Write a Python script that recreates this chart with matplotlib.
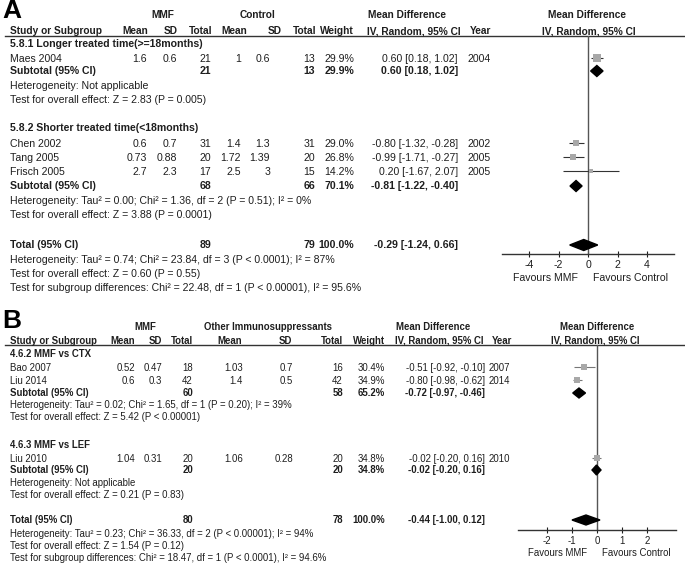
import matplotlib
matplotlib.use("Agg")
import matplotlib.pyplot as plt
from matplotlib.patches import Polygon

plt.rcParams['font.family'] = ['Liberation Sans', 'DejaVu Sans']

W, H = 685, 563
INK = '#1e1e1e'
SQUARE = '#a8a8a8'

# ---- panel A: MMF vs control, split by treatment time ----
a_groups = ["5.8.1 Longer treated time(>=18months)",
            "5.8.2 Shorter treated time(<18months)"]
a_studies = ["Maes 2004", "Chen 2002", "Tang 2005", "Frisch 2005"]
a_years = [2004, 2002, 2005, 2005]
a_mmf_mean = [1.6, 0.6, 0.73, 2.7]
a_mmf_sd = [0.6, 0.7, 0.88, 2.3]
a_mmf_n = [21, 31, 20, 17]
a_ctrl_mean = [1, 1.4, 1.72, 2.5]
a_ctrl_sd = [0.6, 1.3, 1.39, 3]
a_ctrl_n = [13, 31, 20, 15]
a_weight = [29.9, 29.0, 26.8, 14.2]
a_md = [0.60, -0.80, -0.99, 0.20]
a_lo = [0.18, -1.32, -1.71, -1.67]
a_hi = [1.02, -0.28, -0.27, 2.07]

a_sub_mmf_n = [21, 68]
a_sub_ctrl_n = [13, 66]
a_sub_weight = [29.9, 70.1]
a_sub_md = [0.60, -0.81]
a_sub_lo = [0.18, -1.22]
a_sub_hi = [1.02, -0.40]
a_sub_het = ["Heterogeneity: Not applicable",
             "Heterogeneity: Tau² = 0.00; Chi² = 1.36, df = 2 (P = 0.51); I² = 0%"]
a_sub_z = ["Test for overall effect: Z = 2.83 (P = 0.005)",
           "Test for overall effect: Z = 3.88 (P = 0.0001)"]

a_tot_n = [89, 79]
a_tot_weight = 100.0
a_tot_ci = [-0.29, -1.24, 0.66]
a_tot_notes = ["Heterogeneity: Tau² = 0.74; Chi² = 23.84, df = 3 (P < 0.0001); I² = 87%",
               "Test for overall effect: Z = 0.60 (P = 0.55)",
               "Test for subgroup differences: Chi² = 22.48, df = 1 (P < 0.00001), I² = 95.6%"]
a_ticks = [-4, -2, 0, 2, 4]

# ---- panel B: MMF vs other immunosuppressants ----
b_groups = ["4.6.2 MMF vs CTX", "4.6.3 MMF vs LEF"]
b_studies = ["Bao 2007", "Liu 2014", "Liu 2010"]
b_years = [2007, 2014, 2010]
b_mmf_mean = [0.52, 0.6, 1.04]
b_mmf_sd = [0.47, 0.3, 0.31]
b_mmf_n = [18, 42, 20]
b_ctrl_mean = [1.03, 1.4, 1.06]
b_ctrl_sd = [0.7, 0.5, 0.28]
b_ctrl_n = [16, 42, 20]
b_weight = [30.4, 34.9, 34.8]
b_md = [-0.51, -0.80, -0.02]
b_lo = [-0.92, -0.98, -0.20]
b_hi = [-0.10, -0.62, 0.16]

b_sub_mmf_n = [60, 20]
b_sub_ctrl_n = [58, 20]
b_sub_weight = [65.2, 34.8]
b_sub_md = [-0.72, -0.02]
b_sub_lo = [-0.97, -0.20]
b_sub_hi = [-0.46, 0.16]
b_sub_het = ["Heterogeneity: Tau² = 0.02; Chi² = 1.65, df = 1 (P = 0.20); I² = 39%",
             "Heterogeneity: Not applicable"]
b_sub_z = ["Test for overall effect: Z = 5.42 (P < 0.00001)",
           "Test for overall effect: Z = 0.21 (P = 0.83)"]

b_tot_n = [80, 78]
b_tot_weight = 100.0
b_tot_ci = [-0.44, -1.00, 0.12]
b_tot_notes = ["Heterogeneity: Tau² = 0.23; Chi² = 36.33, df = 2 (P < 0.00001); I² = 94%",
               "Test for overall effect: Z = 1.54 (P = 0.12)",
               "Test for subgroup differences: Chi² = 18.47, df = 1 (P < 0.0001), I² = 94.6%"]
b_ticks = [-2, -1, 0, 1, 2]


def ci_text(md, lo, hi):
    return f"{md:.2f} [{lo:.2f}, {hi:.2f}]"


def draw_panel(fig, bg, d, lay):
    fs = lay['fs']
    c = lay['cols']

    def txt(x, y, s, ha='left', bold=False, va='center', size=None):
        bg.text(x, y, s, ha=ha, va=va, fontsize=size or fs, color=INK,
                fontweight='bold' if bold else 'normal')

    bg.text(2, lay['letter_y'], lay['letter'], fontsize=19, fontweight='bold',
            ha='left', va='center', color='black')

    # headers
    for s, x in zip(lay['head1'], lay['head1_x']):
        txt(x, lay['head1_y'], s, ha='center', bold=True, size=lay['hfs'])
    for s, x, ha in lay['head2']:
        txt(x, lay['line_y'] - 1.5, s, ha=ha, bold=True, va='baseline', size=lay['hfs'])
    bg.plot([5, 684], [lay['line_y']] * 2, color='#333333', lw=1)

    # forest axes, y kept in figure pixels so rows line up with the table
    zero, unit, xmax = lay['zero'], lay['unit'], lay['xmax']
    left = zero - xmax * unit
    top, bottom = lay['line_y'], lay['axis_y']
    fa = fig.add_axes([left / W, 1 - bottom / H, 2 * xmax * unit / W, (bottom - top) / H])
    fa.set_xlim(-xmax, xmax)
    fa.set_ylim(bottom, top)
    fa.patch.set_alpha(0)
    for side in ['top', 'left', 'right']:
        fa.spines[side].set_visible(False)
    fa.spines['bottom'].set_color('#333333')
    fa.spines['bottom'].set_linewidth(1)
    fa.set_yticks([])
    fa.set_xticks(d['ticks'])
    fa.set_xticklabels([f"{t:g}" for t in d['ticks']])
    fa.tick_params(axis='x', direction='inout', length=5, width=0.8,
                   pad=2, labelsize=fs, colors=INK)
    fa.axvline(0, color='#555555', lw=1)
    fa.text(-xmax / 2, lay['fav_y'], "Favours MMF", ha='center', va='center',
            fontsize=fs, color=INK, clip_on=False)
    fa.text(xmax / 2, lay['fav_y'], "Favours Control", ha='center', va='center',
            fontsize=fs, color=INK, clip_on=False)

    def diamond(md, lo, hi, y):
        h = lay['dh'] / 2
        fa.add_patch(Polygon([(lo, y), (md, y - h), (hi, y), (md, y + h)],
                             closed=True, color='black', zorder=4))

    # studies
    for i, name in enumerate(d['studies']):
        y = lay['study_y'][i]
        txt(10, y, name)
        txt(c['mmf_mean'], y, f"{d['mmf_mean'][i]:g}", ha='right')
        txt(c['mmf_sd'], y, f"{d['mmf_sd'][i]:g}", ha='right')
        txt(c['mmf_n'], y, f"{d['mmf_n'][i]}", ha='right')
        txt(c['ctrl_mean'], y, f"{d['ctrl_mean'][i]:g}", ha='right')
        txt(c['ctrl_sd'], y, f"{d['ctrl_sd'][i]:g}", ha='right')
        txt(c['ctrl_n'], y, f"{d['ctrl_n'][i]}", ha='right')
        txt(c['weight'], y, f"{d['weight'][i]:.1f}%", ha='right')
        txt(c['md'], y, ci_text(d['md'][i], d['lo'][i], d['hi'][i]), ha='right')
        txt(c['year'], y, f"{d['years'][i]}")
        fa.hlines(y - 1, d['lo'][i], d['hi'][i], color=lay['ci_color'], lw=0.8, zorder=2)
        fa.scatter([d['md'][i]], [y - 1], marker='s', s=d['weight'][i] * lay['sq'],
                   color=SQUARE, linewidths=0, zorder=3)

    # subgroups
    for g, gname in enumerate(d['groups']):
        txt(10, lay['group_y'][g], gname, bold=True)
        y = lay['sub_y'][g]
        txt(10, y, "Subtotal (95% CI)", bold=True)
        txt(c['mmf_n'], y, f"{d['sub_mmf_n'][g]}", ha='right', bold=True)
        txt(c['ctrl_n'], y, f"{d['sub_ctrl_n'][g]}", ha='right', bold=True)
        txt(c['weight'], y, f"{d['sub_weight'][g]:.1f}%", ha='right', bold=True)
        txt(c['md'], y, ci_text(d['sub_md'][g], d['sub_lo'][g], d['sub_hi'][g]),
            ha='right', bold=True)
        diamond(d['sub_md'][g], d['sub_lo'][g], d['sub_hi'][g], y)
        txt(10, lay['het_y'][g], d['sub_het'][g])
        txt(10, lay['z_y'][g], d['sub_z'][g])

    # overall
    y = lay['tot_y'][0]
    txt(10, y, "Total (95% CI)", bold=True)
    txt(c['mmf_n'], y, f"{d['tot_n'][0]}", ha='right', bold=True)
    txt(c['ctrl_n'], y, f"{d['tot_n'][1]}", ha='right', bold=True)
    txt(c['weight'], y, f"{d['tot_weight']:.1f}%", ha='right', bold=True)
    txt(c['md'], y, ci_text(*d['tot_ci']), ha='right', bold=True)
    diamond(*d['tot_ci'], y)
    for s, yy in zip(d['tot_notes'], lay['tot_y'][1:]):
        txt(10, yy, s)


fig = plt.figure(figsize=(W / 100, H / 100), dpi=100)
bg = fig.add_axes([0, 0, 1, 1])
bg.set_xlim(0, W)
bg.set_ylim(H, 0)
bg.axis('off')

data_a = dict(groups=a_groups, studies=a_studies, years=a_years,
              mmf_mean=a_mmf_mean, mmf_sd=a_mmf_sd, mmf_n=a_mmf_n,
              ctrl_mean=a_ctrl_mean, ctrl_sd=a_ctrl_sd, ctrl_n=a_ctrl_n,
              weight=a_weight, md=a_md, lo=a_lo, hi=a_hi,
              sub_mmf_n=a_sub_mmf_n, sub_ctrl_n=a_sub_ctrl_n, sub_weight=a_sub_weight,
              sub_md=a_sub_md, sub_lo=a_sub_lo, sub_hi=a_sub_hi,
              sub_het=a_sub_het, sub_z=a_sub_z,
              tot_n=a_tot_n, tot_weight=a_tot_weight, tot_ci=a_tot_ci,
              tot_notes=a_tot_notes, ticks=a_ticks)
layout_a = dict(letter='A', letter_y=11, fs=7.6, hfs=7.3,
                head1=["MMF", "Control", "Mean Difference", "Mean Difference"],
                head1_x=[163, 258, 407, 587], head1_y=15,
                head2=[("Study or Subgroup", 10, 'left'), ("Mean", 148, 'right'),
                       ("SD", 178, 'right'), ("Total", 212, 'right'),
                       ("Mean", 247, 'right'), ("SD", 282, 'right'),
                       ("Total", 316, 'right'), ("Weight", 354, 'right'),
                       ("IV, Random, 95% CI", 367, 'left'), ("Year", 470, 'left'),
                       ("IV, Random, 95% CI", 589, 'center')],
                line_y=36,
                cols=dict(mmf_mean=147, mmf_sd=177, mmf_n=211, ctrl_mean=241,
                          ctrl_sd=270, ctrl_n=315, weight=354, md=458, year=468),
                group_y=[44, 128], study_y=[59, 144, 158, 172],
                sub_y=[71, 186], het_y=[86, 201], z_y=[100, 215],
                tot_y=[245, 260, 274, 288],
                zero=588, unit=14.75, xmax=5.8, axis_y=254, fav_y=278,
                dh=11, sq=0.85, ci_color='#333333')

data_b = dict(groups=b_groups, studies=b_studies, years=b_years,
              mmf_mean=b_mmf_mean, mmf_sd=b_mmf_sd, mmf_n=b_mmf_n,
              ctrl_mean=b_ctrl_mean, ctrl_sd=b_ctrl_sd, ctrl_n=b_ctrl_n,
              weight=b_weight, md=b_md, lo=b_lo, hi=b_hi,
              sub_mmf_n=b_sub_mmf_n, sub_ctrl_n=b_sub_ctrl_n, sub_weight=b_sub_weight,
              sub_md=b_sub_md, sub_lo=b_sub_lo, sub_hi=b_sub_hi,
              sub_het=b_sub_het, sub_z=b_sub_z,
              tot_n=b_tot_n, tot_weight=b_tot_weight, tot_ci=b_tot_ci,
              tot_notes=b_tot_notes, ticks=b_ticks)
layout_b = dict(letter='B', letter_y=321, fs=6.9, hfs=6.9,
                head1=["MMF", "Other Immunosuppressants", "Mean Difference", "Mean Difference"],
                head1_x=[145, 268, 433, 597], head1_y=327,
                head2=[("Study or Subgroup", 10, 'left'), ("Mean", 135, 'right'),
                       ("SD", 162, 'right'), ("Total", 193, 'right'),
                       ("Mean", 230, 'center'), ("SD", 285, 'center'),
                       ("Total", 343, 'right'), ("Weight", 385, 'right'),
                       ("IV, Random, 95% CI", 395, 'left'), ("Year", 492, 'left'),
                       ("IV, Random, 95% CI", 595, 'center')],
                line_y=345,
                cols=dict(mmf_mean=135, mmf_sd=162, mmf_n=193, ctrl_mean=243,
                          ctrl_sd=293, ctrl_n=343, weight=385, md=485, year=489),
                group_y=[354, 445], study_y=[368, 381, 459],
                sub_y=[393, 470], het_y=[405, 483], z_y=[417, 495],
                tot_y=[520, 534, 546, 558],
                zero=597, unit=25, xmax=3.15, axis_y=530, fav_y=553,
                dh=10, sq=0.65, ci_color='#777777')

draw_panel(fig, bg, data_a, layout_a)
draw_panel(fig, bg, data_b, layout_b)

fig.savefig("out.png", dpi=100)
